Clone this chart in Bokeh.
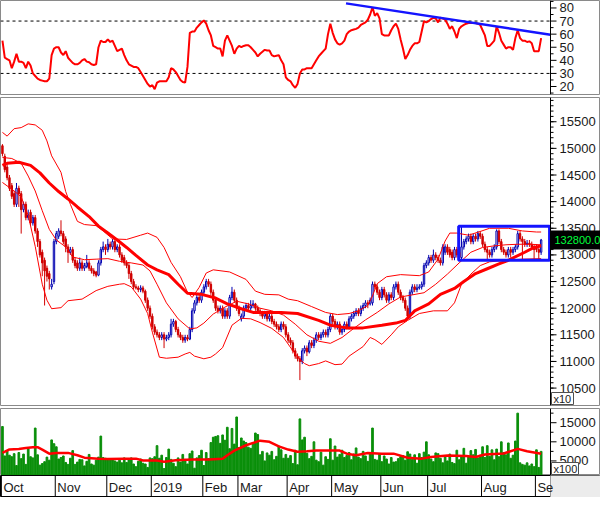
from bokeh.plotting import figure
from bokeh.layouts import column
from bokeh.models import Range1d
from bokeh.core.properties import value
from bokeh.embed import file_html
from bokeh.resources import INLINE

# ---------------- data (daily, Oct 2018 - early Sep 2019) ----------------
month_labels = ["Oct", "Nov", "Dec", "2019", "Feb", "Mar", "Apr", "May", "Jun", "Jul", "Aug", "Se"]
month_start = [0, 23, 45, 64, 86, 101, 122, 141, 162, 182, 205, 228]

rsi_ticks = [20, 30, 40, 50, 60, 70, 80]
price_ticks = [10500, 11000, 11500, 12000, 12500, 13000, 13500, 14000, 14500, 15000, 15500]
volume_ticks = [5000, 10000, 15000]

close_p = [
    14900, 14600, 14450, 14250, 14100, 13950, 14250, 14150, 13850, 13950,
    13700, 13750, 13600, 13700, 13450, 13250, 13000, 12850, 12700, 12600,
    12550, 12450, 13250, 13400, 13450, 13400, 13250, 13150, 13050, 13100,
    12900, 12800, 12750, 12850, 12750, 12800, 12850, 12750, 12700, 12650,
    12620, 12850, 13100, 13150, 13100, 13200, 13150, 13250, 13100, 13150,
    13000, 12900, 12850, 12800, 12650, 12500, 12400, 12380, 12350, 12380,
    12320, 12150, 12000, 11850, 11650, 11550, 11500, 11450, 11500, 11420,
    11450, 11500, 11700, 11750, 11600, 11500, 11450, 11400, 11450, 11420,
    11600, 11950, 12100, 12200, 12150, 12300, 12400, 12500, 12450, 12300,
    12150, 12000, 11950, 12000, 11850, 11950, 11850, 12200, 12300, 12150,
    12000, 11900, 11850, 12000, 12050, 12000, 12050, 12080, 12000, 11950,
    11900, 11850, 11900, 11800, 11850, 11750, 11700, 11650, 11600, 11700,
    11650, 11500, 11400, 11350, 11200, 11100, 11050, 11000, 11200, 11250,
    11180, 11350, 11300, 11400, 11500, 11450, 11500, 11550, 11500, 11600,
    11850, 11750, 11650, 11700, 11550, 11600, 11700, 11650, 11800, 11850,
    11900, 11950, 11900, 12000, 12050, 12100, 12080, 12150, 12450, 12400,
    12300, 12200, 12350, 12250, 12150, 12250, 12200, 12400, 12450, 12300,
    12200, 12150, 12000, 11850, 12300, 12400, 12350, 12380, 12400, 12450,
    12800, 12850, 12950, 12900, 13000, 12950, 12900, 12850, 13150, 13150,
    13050, 13000, 12950, 13100, 13000, 12950, 13150, 13250, 13300, 13350,
    13250, 13350, 13300, 13400, 13350, 13200, 13100, 13050, 13000, 13100,
    13150, 13450, 13250, 13100, 13050, 13000, 13100, 13050, 13100, 13150,
    13400, 13300, 13250, 13200, 13220, 13200, 13150, 13100, 13100, 13050,
    13280,
]
open_p = [
    15050, 14850, 14650, 14450, 14300, 14150, 13950, 14250, 14150, 13850,
    13950, 13700, 13800, 13600, 13700, 13450, 13250, 13050, 12900, 12750,
    12650, 12400, 12500, 13250, 13350, 13450, 13400, 13300, 13150, 13050,
    13100, 12900, 12850, 12750, 12850, 12750, 12780, 12850, 12750, 12700,
    12680, 12620, 12850, 13100, 13150, 13100, 13200, 13150, 13250, 13100,
    13150, 13000, 12950, 12850, 12800, 12650, 12500, 12400, 12380, 12350,
    12380, 12320, 12150, 12000, 11850, 11650, 11550, 11500, 11450, 11500,
    11420, 11450, 11500, 11700, 11750, 11600, 11500, 11450, 11400, 11450,
    11420, 11600, 11950, 12100, 12200, 12150, 12300, 12400, 12500, 12450,
    12300, 12150, 12000, 11950, 12000, 11850, 11950, 11850, 12200, 12300,
    12150, 12000, 11800, 11850, 12000, 12050, 12000, 12050, 12080, 12000,
    11950, 11900, 11850, 11900, 11800, 11850, 11750, 11700, 11650, 11600,
    11700, 11650, 11500, 11400, 11350, 11200, 11100, 11050, 11000, 11200,
    11250, 11180, 11350, 11300, 11400, 11500, 11450, 11500, 11550, 11500,
    11600, 11850, 11750, 11650, 11700, 11550, 11600, 11700, 11650, 11800,
    11850, 11900, 11950, 11900, 12000, 12050, 12100, 12080, 12100, 12450,
    12400, 12300, 12200, 12350, 12250, 12150, 12250, 12200, 12400, 12450,
    12300, 12200, 12150, 12000, 11850, 12300, 12400, 12350, 12380, 12400,
    12450, 12800, 12850, 12950, 12900, 13000, 12950, 12900, 12850, 13050,
    13150, 13100, 13050, 12950, 13100, 13050, 12950, 13150, 13250, 13300,
    13350, 13250, 13350, 13300, 13400, 13350, 13200, 13100, 13050, 13000,
    13100, 13150, 13450, 13250, 13100, 13050, 13000, 13100, 13050, 13100,
    13150, 13400, 13300, 13250, 13200, 13220, 13200, 13150, 13150, 13100,
    13050,
]
high_p = [
    15080, 14900, 14700, 14500, 14350, 14200, 14350, 14300, 14200, 14000,
    14000, 13850, 13850, 13750, 13750, 13500, 13300, 13100, 12950, 12800,
    12700, 12550, 13300, 13450, 13500, 13650, 13450, 13350, 13200, 13150,
    13150, 12950, 12900, 12950, 12900, 12850, 13000, 12900, 12800, 12750,
    12700, 12900, 13150, 13250, 13200, 13300, 13250, 13300, 13300, 13200,
    13200, 13050, 13000, 12900, 12850, 12700, 12550, 12450, 12420, 12430,
    12420, 12350, 12200, 12050, 11900, 11700, 11600, 11550, 11550, 11550,
    11500, 11550, 11800, 11800, 11780, 11650, 11550, 11500, 11500, 11500,
    11650, 12000, 12150, 12250, 12250, 12350, 12450, 12550, 12550, 12500,
    12350, 12200, 12050, 12050, 12050, 12000, 12000, 12250, 12400, 12350,
    12200, 12050, 11900, 12050, 12100, 12100, 12150, 12150, 12100, 12050,
    12000, 11950, 11950, 11950, 11900, 11900, 11800, 11750, 11700, 11750,
    11750, 11700, 11550, 11450, 11400, 11250, 11150, 11100, 11250, 11300,
    11300, 11400, 11400, 11450, 11550, 11550, 11550, 11600, 11600, 11650,
    11900, 11900, 11800, 11750, 11750, 11650, 11750, 11750, 11850, 11900,
    11950, 12000, 12000, 12050, 12100, 12150, 12150, 12200, 12500, 12500,
    12450, 12350, 12400, 12400, 12300, 12300, 12300, 12450, 12500, 12500,
    12350, 12250, 12200, 12050, 12350, 12450, 12450, 12450, 12450, 12500,
    12850, 12900, 13000, 13000, 13100, 13050, 13000, 12950, 13200, 13200,
    13200, 13150, 13100, 13150, 13150, 13100, 13540, 13300, 13350, 13400,
    13400, 13400, 13400, 13450, 13450, 13400, 13250, 13150, 13100, 13150,
    13200, 13480, 13480, 13300, 13150, 13100, 13150, 13150, 13150, 13200,
    13450, 13450, 13350, 13300, 13280, 13280, 13250, 13200, 13200, 13150,
    13300,
]
low_p = [
    14850, 14550, 14400, 14200, 14050, 13900, 13900, 13900, 13400, 13800,
    13650, 13650, 13550, 13550, 13400, 13150, 12950, 12600, 12050, 12500,
    12350, 12350, 12450, 13200, 13300, 13350, 13200, 13050, 12850, 13000,
    12850, 12750, 12700, 12700, 12700, 12700, 12750, 12700, 12650, 12600,
    12580, 12600, 12800, 13050, 13000, 13050, 13100, 13100, 13050, 13050,
    12950, 12850, 12800, 12750, 12550, 12450, 12350, 12350, 12300, 12300,
    12280, 12100, 11950, 11800, 11600, 11500, 11450, 11400, 11400, 11250,
    11380, 11400, 11450, 11650, 11550, 11450, 11400, 11350, 11350, 11380,
    11400, 11550, 11900, 12050, 12100, 12100, 12250, 12350, 12400, 12250,
    12100, 11950, 11900, 11900, 11800, 11800, 11800, 11800, 12150, 12100,
    11950, 11850, 11750, 11800, 11950, 11950, 11950, 12000, 11950, 11900,
    11850, 11800, 11800, 11750, 11750, 11700, 11650, 11600, 11550, 11550,
    11600, 11450, 11350, 11300, 11150, 11050, 11000, 10650, 10950, 11150,
    11100, 11150, 11250, 11250, 11350, 11400, 11400, 11450, 11450, 11450,
    11550, 11700, 11600, 11600, 11500, 11500, 11550, 11600, 11600, 11750,
    11800, 11850, 11850, 11850, 11950, 12000, 12000, 12050, 12050, 12350,
    12250, 12150, 12150, 12200, 12100, 12100, 12150, 12150, 12350, 12250,
    12150, 12100, 11950, 11800, 11800, 12250, 12300, 12300, 12350, 12350,
    12400, 12750, 12800, 12850, 12850, 12900, 12850, 12800, 12800, 13000,
    13000, 12950, 12900, 12900, 12950, 12900, 12900, 13100, 13200, 13250,
    13200, 13200, 13250, 13250, 13300, 13150, 13050, 12900, 12950, 12950,
    13050, 13100, 13200, 13050, 13000, 12950, 12950, 12950, 13000, 13050,
    13100, 13250, 12900, 13150, 13150, 13150, 13100, 12900, 13050, 12900,
    13000,
]
volume = [
    14000, 6300, 7700, 6500, 6100, 6900, 3800, 7200, 5600, 6800, 4100, 8200, 6100, 5800, 13600, 6600,
    3900, 4300, 4800, 6000, 5200, 10500, 9500,
    8700, 5500, 5900, 6300, 4600, 4100, 5700, 7700, 4100, 4700, 5400, 5300, 3700, 4900, 6700, 4200,
    3900, 5200, 6000, 11500, 5900, 5700,
    5600, 5500, 5300, 5000, 4700, 5200, 4500, 5800, 4600, 5300, 5800, 4200, 3500, 4900, 5500, 4400,
    4200, 3300, 5800,
    5600, 6100, 9000, 5700, 6500, 3000, 5900, 8100, 5400, 4400, 3500, 5800, 4700, 6700, 5400, 4200,
    6900, 7600, 3100, 5800, 6400, 7800,
    3800, 7200, 5600, 9800, 11200, 11400, 11600, 9600, 11800, 10400, 13800, 8200, 13500, 9400, 16500,
    8500, 11000, 10200, 9800, 8600, 8300, 9800, 12300, 11900, 6600, 7500, 5000, 7100, 6500, 7500,
    5300, 6200, 8900, 7900, 5700, 6700,
    5700, 6400, 4300, 7800, 4000, 16000, 10500, 11200, 7000, 5600, 6200, 10000, 5200, 4800, 7300,
    3900, 6100, 5400, 10800,
    5200, 8900, 6000, 6700, 7800, 5900, 6400, 7200, 5300, 6800, 8400, 6000, 5600, 7500, 6300, 4900,
    7100, 13600, 5400, 5200, 6900,
    4800, 6300, 5500, 4200, 5900, 4700, 4800, 5600, 6100, 6400, 5200, 7400, 6800, 5400, 6600, 4400,
    6900, 5900, 7300, 10000,
    6600, 5500, 4800, 7100, 6900, 5700, 4500, 6100, 5000, 6800, 4600, 4300, 7800, 5300, 6400, 8300,
    4400, 6000, 7700, 6600, 8000, 5800, 6500,
    8700, 5900, 9000, 6200, 7900, 5300, 8100, 6100, 10000, 7200, 6600, 9700, 5700, 6500, 10200, 17500,
    4500, 4100, 3900, 4500, 3700, 4200, 3500,
    7900, 3300, 7500,
]
rsi = [
    55, 42, 41, 40, 34, 39, 45, 39, 39, 38,
    34, 39, 36, 30, 28, 26, 25, 24.5, 24, 24,
    26, 44, 49, 50, 50, 46, 44, 47, 42, 40,
    38, 37, 37, 38, 40, 41, 39, 38.5, 37, 36.5,
    37, 50, 55, 54, 54, 56, 54, 55, 51, 47,
    48, 49, 44, 40, 37, 36, 35, 35, 34, 31,
    28, 25, 22, 20, 21, 18, 23, 24, 24, 24,
    24, 27, 34, 33, 31, 28, 25, 23.5, 23, 35,
    61, 62, 62, 65, 67, 69, 70.5, 68, 63, 59,
    51, 50, 49, 49, 43, 55, 59, 55, 51, 45,
    49, 51, 50, 51, 51.5, 51.5, 50, 48, 46, 43,
    45, 46.5, 48, 47.5, 47.5, 44, 43, 43.5, 44, 40,
    37, 27, 25, 24, 21, 19, 22, 30, 33, 33,
    34, 34, 34, 37, 40, 43, 45, 47, 49, 60,
    68, 61, 56, 53, 52, 53, 55, 60, 62, 63,
    63.5, 64, 65, 67, 68, 69, 71, 75, 80.5, 74,
    76, 72, 60, 59, 59, 59, 63, 66, 68, 64,
    56, 49, 41, 44, 48, 51, 53, 53, 54, 62,
    70, 69, 70, 71.5, 72.5, 72, 69, 72.5, 72, 71,
    68, 64, 66, 62, 57, 64, 66, 67, 68, 68.5,
    68.5, 68.5, 68.5, 68, 67, 63, 59, 51, 51, 53,
    55, 66, 61, 55, 52, 49, 50, 50, 48, 57,
    63, 57, 55, 55, 54, 54.5, 53, 47, 47, 47,
    57,
]

bb_up_x = [0, 2, 5, 8, 11, 14, 17, 19, 21, 25, 27, 29, 32, 35, 40, 43, 47, 53, 59, 62,
           66, 69, 72, 76, 79, 81, 84, 87, 90, 97, 104, 108, 112, 118, 122, 126, 132, 138, 143, 148,
           152, 156, 158, 160, 164, 170, 178, 182, 186, 189, 191, 194, 199, 204, 208, 216, 222, 228, 230]
bb_up = [15300, 15230, 15370, 15390, 15460, 15440, 15340, 15140, 14860, 14550,
         14190, 13950, 13630, 13570, 13550, 13450, 13300, 13290, 13370, 13410,
         13330, 13140, 12860, 12590, 12300, 12200, 12390, 12660, 12720, 12680,
         12540, 12320, 12260, 12250, 12170, 12140, 12030, 11920, 11880, 11900,
         11950, 12050, 12230, 12460, 12590, 12630, 12610, 12680, 12920, 13260,
         13410, 13410, 13370, 13440, 13500, 13500, 13450, 13430, 13430]
bb_mid_x = [0, 4, 8, 11, 14, 17, 20, 23, 27, 30, 35, 40, 45, 50, 55, 60, 63, 66, 70, 75,
            80, 83, 86, 90, 95, 100, 105, 110, 115, 120, 125, 130, 135, 140, 145, 150, 155, 160, 165, 170,
            175, 180, 185, 190, 195, 200, 205, 210, 215, 220, 225, 230]
bb_mid = [14830, 14810, 14720, 14480, 14200, 13830, 13480, 13280, 13150, 12960,
          12910, 12920, 12930, 12880, 12850, 12810, 12700, 12450, 12100, 11800,
          11610, 11630, 11720, 11890, 12020, 12130, 12080, 12000, 11950, 11870,
          11700, 11500, 11380, 11340, 11450, 11620, 11780, 11920, 12080, 12210,
          12250, 12290, 12450, 12640, 12850, 13050, 13140, 13170, 13190, 13200,
          13200, 13190]
bb_lo_x = [0, 5, 8, 11, 14, 17, 19, 21, 25, 28, 34, 40, 45, 50, 52, 55, 59, 62, 64, 67,
           70, 75, 78, 80, 82, 86, 89, 91, 94, 98, 102, 106, 110, 115, 120, 124, 127, 129, 131, 135,
           138, 142, 145, 148, 154, 157, 159, 162, 166, 169, 173, 178, 184, 190, 193, 196, 200, 204, 208, 215,
           222, 230]
bb_lo = [14360, 14200, 14090, 13740, 13160, 12450, 12150, 11990, 12010, 12140,
         12170, 12330, 12410, 12450, 12460, 12400, 12170, 11900, 11550, 11080,
         11060, 11080, 11140, 11170, 11100, 11050, 11080, 11140, 11260, 11680,
         11810, 11800, 11730, 11620, 11450, 11200, 11040, 10960, 10920, 10960,
         11010, 10940, 10950, 11100, 11280, 11450, 11410, 11320, 11500, 11650,
         11770, 11900, 11950, 11950, 12100, 12450, 12640, 12800, 12870, 12900,
         12920, 12930]
ma_x = [0, 2, 7, 12, 16, 20, 24, 28, 32, 37, 41, 45, 49, 53, 57, 62, 66, 71, 75, 79,
        85, 91, 96, 102, 107, 113, 119, 126, 135, 140, 147, 154, 162, 168, 172, 176, 182, 187, 193, 197,
        202, 207, 212, 216, 223, 227, 230]
ma = [14680, 14720, 14740, 14680, 14540, 14350, 14190, 14050, 13900, 13720,
      13540, 13410, 13280, 13140, 12990, 12810, 12720, 12630, 12450, 12280,
      12260, 12190, 12080, 11990, 11920, 11920, 11920, 11900, 11770, 11680,
      11630, 11630, 11680, 11720, 11770, 11950, 12080, 12260, 12370, 12500,
      12650, 12740, 12830, 12900, 13050, 13140, 13170]
vol_ma_x = [0, 3, 7, 10, 13, 15, 17, 20, 23, 28, 32, 35, 41, 45, 52, 57, 60, 66, 69, 74,
            81, 88, 94, 96, 99, 104, 110, 114, 118, 122, 126, 130, 134, 144, 147, 151, 156, 162, 167, 173,
            179, 183, 190, 198, 202, 206, 214, 220, 224, 230]
vol_ma = [7100, 8000, 8100, 8400, 8600, 8600, 7970, 6900, 7100, 7100,
          6500, 5850, 5600, 5500, 5600, 5600, 5100, 5100, 4800, 5200,
          5400, 5400, 5600, 6500, 7700, 9100, 10300, 10000, 8800, 7970,
          7400, 7540, 7700, 7700, 6900, 6500, 7100, 6900, 6900, 5840,
          5600, 6050, 6400, 6270, 6050, 6700, 6950, 8150, 7540, 6900]

# analyst drawings
rsi_levels = [70, 30]
rsi_trend_x = [146.7, 234.0]
rsi_trend_y = [83.5, 59.6]
box_left, box_right, box_top, box_bottom = 194.8, 233.6, 13540, 12900
last_price_label = "132800.0"
last_price = 13280

# ---------------- chart ----------------
N = min(len(open_p), len(high_p), len(low_p), len(close_p), len(volume), len(rsi))
days = list(range(N))

RED_C = "#d00000"
BLUE_C = "#0000b0"
LINE_RED = "#ff0000"
BLUE_L = "#1414ff"
GREEN = "#0a8f0a"
FONT = "Liberation Sans"
TXT = "#1a1a1a"

W = 600                      # full figure width (data area + price-scale area)
X0 = -0.83                   # left edge of the data area, in trading days
AX = 234.0                   # right edge of the data area (price scale line)
PX = 550 / (AX - X0)         # pixels per trading day
X_END = X0 + W / PX
x_range = Range1d(X0, X_END)


def make_fig(fh, y_range, top=0, bottom=0, outline="#8a8a8a"):
    p = figure(frame_width=W, frame_height=fh, x_range=x_range, y_range=y_range,
               output_backend="svg", toolbar_location=None,
               x_axis_location=None, y_axis_location=None,
               min_border_left=0, min_border_right=0, min_border_top=top, min_border_bottom=bottom,
               background_fill_color="white", border_fill_color="white")
    p.grid.grid_line_color = None
    p.outline_line_color = outline
    p.outline_line_width = 1
    return p


def price_scale(p, y0, y1, ticks, minors, fmt=str):
    n, m = len(ticks), len(minors)
    p.segment(x0=[AX], y0=[y0], x1=[AX], y1=[y1], line_color="black", line_width=1)
    p.segment(x0=[AX] * m, y0=minors, x1=[AX + 3 / PX] * m, y1=minors,
              line_color="black", line_width=1)
    p.segment(x0=[AX] * n, y0=ticks, x1=[AX + 6 / PX] * n, y1=ticks,
              line_color="black", line_width=1)
    p.text(x=[AX] * n, y=ticks, text=[fmt(t) for t in ticks], x_offset=9,
           text_font=value(FONT), text_font_size="13px", text_color=TXT,
           text_align="left", text_baseline="middle")


def unit_tag(p, y_lo, units_per_px, label, width_px):
    p.quad(left=[AX + 1 / PX], right=[AX + (1 + width_px) / PX],
           bottom=[y_lo + 1 * units_per_px], top=[y_lo + 13 * units_per_px],
           fill_color="white", line_color="#505050", line_width=1)
    p.text(x=[AX + 1 / PX], y=[y_lo + 7 * units_per_px], text=[label], x_offset=2,
           text_font=value(FONT), text_font_size="11px", text_color=TXT,
           text_align="left", text_baseline="middle")


# ---- RSI panel
R_LO, R_HI = 13.9, 85.7
p1 = make_fig(94, Range1d(R_LO, R_HI), top=0, bottom=2)
p1.segment(x0=[X0] * len(rsi_levels), y0=rsi_levels, x1=[AX] * len(rsi_levels), y1=rsi_levels,
           line_color="black", line_dash="3 3", line_width=1)
p1.line(days, rsi[:N], color=LINE_RED, line_width=2)
p1.line(rsi_trend_x, rsi_trend_y, color=BLUE_L, line_width=2.5)
price_scale(p1, R_LO, R_HI, rsi_ticks, [15, 25, 35, 45, 55, 65, 75, 85])

# ---- Price panel
P_LO, P_HI = 10173, 15955
PH = 308
p2 = make_fig(PH, Range1d(P_LO, P_HI), top=1, bottom=2)
up = [i for i in days if close_p[i] >= open_p[i]]
dn = [i for i in days if close_p[i] < open_p[i]]
p2.segment(x0=up, y0=[low_p[i] for i in up], x1=up, y1=[high_p[i] for i in up],
           color=BLUE_C, line_width=1)
p2.vbar(x=up, width=0.6, top=[close_p[i] for i in up], bottom=[open_p[i] for i in up],
        fill_color="white", line_color=BLUE_C, line_width=1)
p2.segment(x0=dn, y0=[low_p[i] for i in dn], x1=dn, y1=[high_p[i] for i in dn],
           color=RED_C, line_width=1)
p2.vbar(x=dn, width=0.6, top=[open_p[i] for i in dn], bottom=[close_p[i] for i in dn],
        fill_color=RED_C, line_color=RED_C, line_width=1)
p2.line(bb_up_x, bb_up, color=LINE_RED, line_width=1)
p2.line(bb_mid_x, bb_mid, color=LINE_RED, line_width=1)
p2.line(bb_lo_x, bb_lo, color=LINE_RED, line_width=1)
p2.line(ma_x, ma, color=LINE_RED, line_width=3)
p2.quad(left=[box_left], right=[box_right], top=[box_top], bottom=[box_bottom],
        fill_alpha=0, line_color=BLUE_L, line_width=3)
price_scale(p2, P_LO, P_HI, price_ticks, list(range(10200, 16000, 100)))
upp = (P_HI - P_LO) / PH
p2.quad(left=[AX], right=[X_END + 1], bottom=[last_price - 9 * upp], top=[last_price + 9 * upp],
        fill_color="black", line_color="black")
p2.text(x=[AX], y=[last_price], text=[last_price_label], x_offset=4,
        text_font=value(FONT), text_font_size="11px", text_color="#00ff3c",
        text_align="left", text_baseline="middle")
unit_tag(p2, P_LO, upp, "x10", 22)

# ---- Volume panel
V_LO, V_HI = 1190, 18716
VH = 67
p3 = make_fig(VH, Range1d(V_LO, V_HI), top=1, bottom=0)
p3.vbar(x=days, width=0.72, top=volume[:N], bottom=0, color=GREEN)
p3.line(vol_ma_x, vol_ma, color=LINE_RED, line_width=2.5)
price_scale(p3, V_LO, V_HI, volume_ticks, [2500, 7500, 12500, 17500])
unit_tag(p3, V_LO, (V_HI - V_LO) / VH, "x100", 27)

# ---- Date strip
p4 = make_fig(22, Range1d(0, 1), outline="black")
p4.quad(left=[AX], right=[X_END + 1], bottom=[0], top=[1], fill_color="#ececec",
        line_color="#9a9a9a")
tick_x = [m - 0.45 for m in month_start]
p4.segment(x0=tick_x, y0=[0] * len(tick_x), x1=tick_x, y1=[1] * len(tick_x),
           color="black", line_width=1)
p4.text(x=tick_x, y=[0.47] * len(tick_x), text=month_labels, x_offset=2,
        text_font=value(FONT), text_font_size="13px", text_color=TXT,
        text_align="left", text_baseline="middle")

layout = column(p1, p2, p3, p4, spacing=0)

open("out.html", "w").write(file_html(layout, INLINE))
